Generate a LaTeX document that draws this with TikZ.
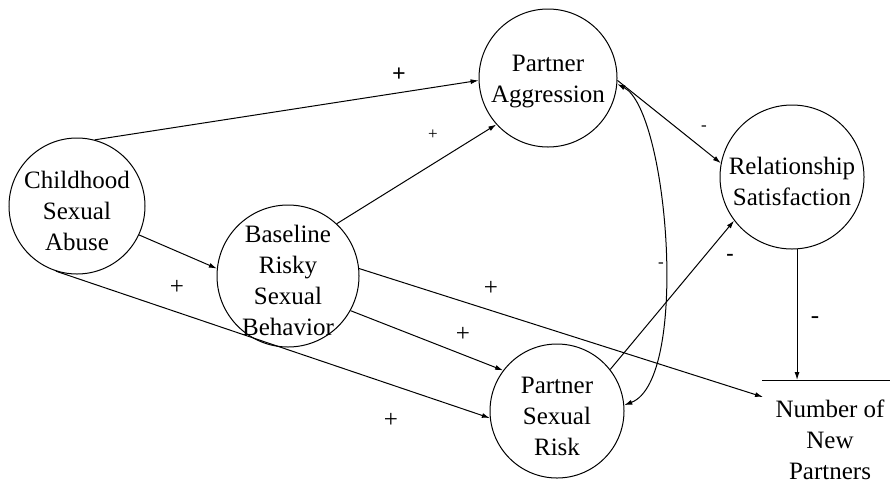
\documentclass[tikz,border=0pt]{standalone}
\usepackage{fontspec}
\setmainfont{Liberation Serif}
\usetikzlibrary{arrows.meta}
\begin{document}
\begin{tikzpicture}[x=1pt,y=-1pt,
  bubble/.style={circle,draw,line width=1pt,inner sep=0pt},
  txt/.style={align=center,font=\fontsize{25}{31}\selectfont,inner sep=0pt},
  conn/.style={line width=1pt,-{Latex[length=8pt,width=5pt]}},
  sgn/.style={font=\fontsize{25}{25}\selectfont,inner sep=0pt},
  sgnsmall/.style={font=\fontsize{17}{17}\selectfont,inner sep=0pt}]
\useasboundingbox (0,0) rectangle (890,491);
% circles
\node[bubble,minimum size=136pt] (csa) at (77,206) {};
\node[bubble,minimum size=142pt] (brsb) at (288,276) {};
\node[bubble,minimum size=138pt] (pa) at (548,78) {};
\node[bubble,minimum size=144pt] (rs) at (792,177) {};
\node[bubble,minimum size=134pt] (psr) at (557,411) {};
% texts
\node[txt] (csat) at (77,211) {Childhood\\Sexual\\Abuse};
\node[txt] (brsbt) at (288,280) {Baseline\\Risky\\Sexual\\Behavior};
\node[txt] (pat) at (548,82) {Partner\\Aggression};
\node[txt] (rst) at (792,181) {Relationship\\Satisfaction};
\node[txt] (psrt) at (557,416) {Partner\\Sexual\\Risk};
\node[txt] (nnp) at (830,440) {Number of\\New\\Partners};
% outcome bar
\coordinate (nl1) at (762,380);
\coordinate (nl2) at (890,380);
\coordinate (nnpin) at (763,397);
\draw[line width=1pt] (nl1) -- (nl2);
% connectors
\draw[conn] (csa.75) -- (pa.182);
\draw[conn] (brsb.47) -- (pa.222);
\draw[conn] (csa.-25) -- (brsb.174);
\draw[conn] (csa.252) -- (psr.186);
\draw[conn] (brsb.-29) -- (psr.143);
\draw[conn] (brsb.6) -- (nnpin);
\draw[conn] (pa.-2) -- (rs.169);
\draw[conn] (psr.38) -- (rs.217);
\draw[conn] (rs.-86) -- (rs.-86 |- nl1);
\draw[line width=1pt,{Latex[length=8pt,width=5pt]}-{Latex[length=8pt,width=5pt]}]
  (pa.-5) .. controls (668,110) and (690,380) .. (psr.5);
% signs
\node[sgn,font=\bfseries\fontsize{24}{24}\selectfont] (s1) at (399,75) {+};
\node[sgnsmall] (s2) at (433,135) {+};
\node[sgn] (s3) at (177,287) {+};
\node[sgn] (s4) at (391,420) {+};
\node[sgn] (s5) at (491,288) {+};
\node[sgn] (s6) at (463,334) {+};
\node[sgnsmall] (s7) at (704,128) {-};
\node[sgn,font=\bfseries\fontsize{22}{22}\selectfont] (s8) at (730,257) {-};
\node[sgnsmall] (s9) at (661,265) {-};
\node[sgn] (s10) at (815,320) {-};
\end{tikzpicture}
\end{document}
